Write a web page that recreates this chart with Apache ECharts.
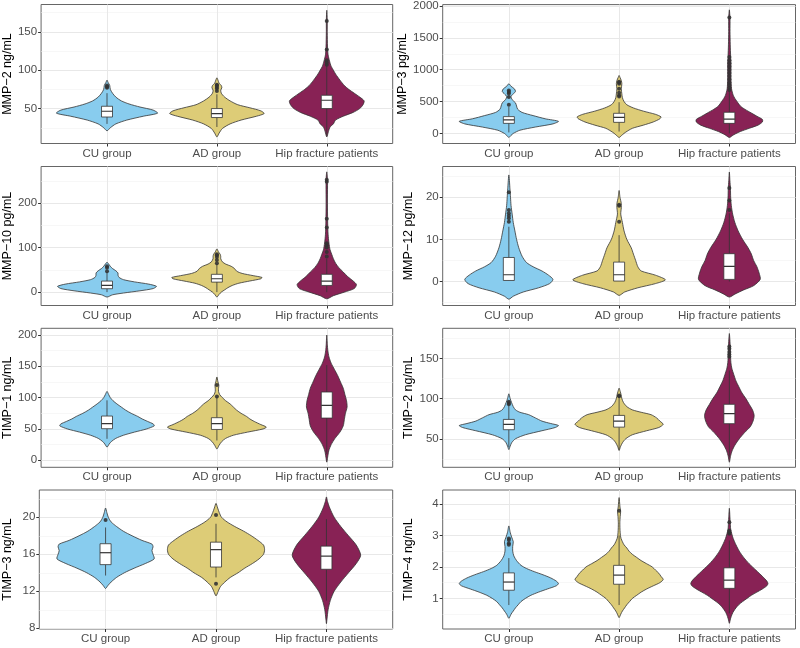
<!DOCTYPE html>
<html>
<head>
<meta charset="utf-8">
<script src="https://cdn.jsdelivr.net/npm/echarts@6/dist/echarts.min.js"></script>
<style>
html,body{margin:0;padding:0;background:#fff;}
#chart{width:800px;height:648px;}
</style>
</head>
<body>
<div id="chart"></div>
<script>
// ---------- data ----------
const categories = ['CU group', 'AD group', 'Hip fracture patients'];
const groupColors = ['#88CCEE', '#DDCC77', '#882255'];
const yTitles = ['MMP\u22122 ng/mL', 'MMP\u22123 pg/mL', 'MMP\u221210 pg/mL', 'MMP\u221212 pg/mL',
                 'TIMP\u22121 ng/mL', 'TIMP\u22122 ng/mL', 'TIMP\u22123 ng/mL', 'TIMP\u22124 ng/mL'];
const yMajorTicks = [[50,100,150],[0,500,1000,1500,2000],[0,100,200],[0,10,20],
                     [0,50,100,150,200],[50,100,150],[8,12,16,20],[1,2,3,4]];
const yMinorTicks = [[25,75,125,175],[250,750,1250,1750],[50,150,250],[-5,5,15,25],
                     [25,75,125,175],[25,75,125,175],[10,14,18,22],[0.5,1.5,2.5,3.5]];
const yLimits = [[4.5,185.5],[-158,2022],[-30,282],[-5.7,27.3],[-11.2,210.7],[14.5,187.5],[7.92,22.95],[0.03,4.44]];

// violin density profiles: [value, half-width in category units]
const mmp2Violin = [
  [[21,0],[25,0.03],[30,0.08],[35,0.18],[40,0.33],[44,0.46],[48,0.42],[52,0.3],[56,0.2],[60,0.13],[65,0.08],[70,0.05],[75,0.03],[80,0.025],[84,0.01],[87,0]],
  [[13,0],[18,0.02],[24,0.05],[30,0.12],[35,0.22],[40,0.36],[43.5,0.43],[47,0.4],[51,0.3],[55,0.19],[60,0.12],[65,0.07],[70,0.04],[74,0.035],[77,0.045],[80,0.04],[83,0.02],[87,0.01],[90,0]],
  [[13,0],[20,0.015],[26,0.03],[30,0.06],[35,0.08],[40,0.15],[45,0.24],[50,0.3],[55,0.33],[60,0.34],[65,0.3],[70,0.25],[75,0.2],[80,0.16],[87,0.12],[95,0.08],[100,0.06],[105,0.04],[112,0.025],[120,0.012],[130,0.007],[150,0.004],[165,0.004],[178,0]]
];
const mmp3Violin = [
  [[-63,0],[-30,0.02],[0,0.04],[50,0.1],[100,0.24],[150,0.4],[190,0.45],[230,0.33],[280,0.22],[330,0.12],[380,0.08],[430,0.07],[480,0.06],[530,0.03],[580,0.02],[620,0.04],[660,0.06],[700,0.05],[740,0.02],[780,0]],
  [[-63,0],[-20,0.03],[20,0.06],[80,0.12],[130,0.22],[180,0.31],[230,0.37],[260,0.38],[300,0.33],[350,0.22],[400,0.13],[450,0.07],[500,0.045],[560,0.03],[620,0.025],[700,0.02],[780,0.025],[830,0.02],[880,0.008],[910,0]],
  [[-63,0],[-20,0.04],[30,0.1],[80,0.18],[130,0.26],[180,0.3],[220,0.3],[270,0.25],[320,0.2],[380,0.14],[430,0.1],[500,0.07],[550,0.05],[600,0.035],[700,0.02],[850,0.015],[1000,0.015],[1100,0.015],[1200,0.012],[1400,0.008],[1600,0.006],[1800,0.006],[1940,0]]
];
const mmp10Violin = [
  [[-11,0],[-6,0.05],[-2,0.15],[3,0.3],[8,0.42],[13,0.45],[18,0.38],[23,0.25],[28,0.15],[33,0.11],[38,0.1],[43,0.1],[48,0.08],[53,0.05],[58,0.03],[63,0.015],[67,0]],
  [[-11,0],[-5,0.02],[0,0.04],[5,0.07],[10,0.1],[15,0.14],[20,0.2],[25,0.3],[30,0.4],[33,0.41],[37,0.33],[42,0.23],[47,0.18],[53,0.16],[58,0.13],[63,0.08],[68,0.05],[75,0.035],[80,0.035],[85,0.03],[90,0.015],[97,0]],
  [[-15,0],[-8,0.06],[0,0.16],[8,0.25],[17,0.27],[25,0.24],[35,0.19],[45,0.15],[55,0.11],[65,0.08],[75,0.06],[85,0.045],[95,0.03],[110,0.02],[130,0.012],[160,0.008],[200,0.006],[240,0.007],[255,0.006],[270,0]]
];
const mmp12Violin = [
  [[-4.2,0],[-3.5,0.04],[-2.5,0.13],[-1.5,0.27],[-0.5,0.37],[0.5,0.4],[1.5,0.36],[2.5,0.3],[3.5,0.22],[4.5,0.16],[6,0.12],[8,0.09],[10,0.07],[12,0.055],[14,0.04],[16,0.03],[18,0.02],[20,0.015],[22,0.01],[25.3,0]],
  [[-3.3,0],[-2.5,0.05],[-1.5,0.17],[-0.5,0.33],[0.4,0.42],[1.5,0.33],[2.5,0.2],[3.5,0.17],[5,0.15],[6.5,0.13],[8,0.11],[10,0.07],[12,0.045],[14,0.03],[16,0.015],[17.5,0.02],[18.5,0.02],[20,0.008],[21.6,0]],
  [[-3.7,0],[-3,0.05],[-2,0.13],[-1,0.22],[0.5,0.28],[2,0.27],[3.5,0.25],[5,0.22],[6.5,0.2],[8,0.17],[10,0.12],[12,0.08],[14,0.05],[16,0.03],[18,0.018],[20,0.012],[22,0.01],[24,0.005],[26,0]]
];
const timp1Violin = [
  [[21,0],[26,0.02],[30,0.04],[35,0.08],[40,0.15],[45,0.25],[50,0.36],[55,0.43],[58,0.42],[62,0.37],[66,0.32],[70,0.28],[75,0.22],[80,0.17],[85,0.13],[90,0.09],[95,0.055],[100,0.03],[105,0.015],[110,0]],
  [[18,0],[24,0.02],[30,0.045],[35,0.08],[40,0.15],[45,0.28],[50,0.42],[53,0.45],[57,0.4],[62,0.34],[66,0.3],[70,0.27],[75,0.22],[80,0.18],[85,0.15],[90,0.12],[95,0.08],[100,0.05],[105,0.025],[110,0.015],[115,0.015],[120,0.018],[125,0.01],[133,0]],
  [[-3,0],[5,0.008],[15,0.018],[25,0.04],[35,0.075],[45,0.12],[55,0.15],[65,0.16],[75,0.17],[85,0.185],[95,0.18],[105,0.165],[115,0.15],[125,0.125],[135,0.1],[145,0.07],[155,0.04],[165,0.02],[175,0.01],[185,0.005],[200,0]]
];
const timp2Violin = [
  [[36.5,0],[40,0.01],[45,0.025],[50,0.06],[55,0.15],[60,0.3],[64,0.42],[66.5,0.45],[69,0.38],[72,0.3],[76,0.24],[80,0.18],[83,0.1],[86,0.06],[90,0.04],[95,0.025],[100,0.012],[106,0]],
  [[35.4,0],[40,0.012],[45,0.03],[50,0.06],[55,0.12],[60,0.25],[64,0.36],[68,0.4],[72,0.37],[76,0.34],[80,0.29],[83,0.2],[86,0.12],[90,0.07],[95,0.04],[100,0.025],[105,0.018],[109,0.01],[113,0]],
  [[20.8,0],[28,0.01],[35,0.025],[42,0.05],[50,0.09],[58,0.14],[65,0.19],[72,0.215],[79,0.225],[86,0.21],[93,0.18],[100,0.15],[107,0.115],[115,0.085],[122,0.06],[130,0.04],[138,0.022],[145,0.014],[155,0.01],[165,0.008],[173,0.005],[181,0]]
];
const timp3Violin = [
  [[12.3,0],[12.6,0.02],[13,0.05],[13.5,0.1],[14,0.17],[14.5,0.26],[15,0.36],[15.5,0.44],[16,0.43],[16.4,0.42],[16.8,0.43],[17.1,0.42],[17.5,0.33],[18,0.24],[18.5,0.16],[19,0.1],[19.5,0.05],[20,0.025],[20.5,0.012],[21,0]],
  [[11.5,0],[12,0.02],[12.5,0.04],[13,0.08],[13.5,0.13],[14,0.2],[14.5,0.26],[15,0.33],[15.5,0.39],[16,0.43],[16.5,0.44],[17,0.43],[17.5,0.38],[18,0.32],[18.5,0.25],[19,0.17],[19.5,0.1],[20,0.05],[20.5,0.03],[21,0.015],[21.5,0]],
  [[8.5,0],[9,0.005],[10,0.015],[11,0.035],[12,0.07],[13,0.13],[14,0.2],[15,0.27],[15.9,0.31],[17,0.27],[18,0.2],[19,0.13],[20,0.07],[21,0.03],[21.7,0.01],[22.2,0]]
];
const timp4Violin = [
  [[0.37,0],[0.5,0.02],[0.6,0.04],[0.7,0.06],[0.8,0.085],[0.9,0.11],[1.0,0.15],[1.1,0.2],[1.2,0.27],[1.3,0.35],[1.4,0.43],[1.47,0.45],[1.55,0.43],[1.65,0.38],[1.75,0.31],[1.85,0.23],[1.95,0.16],[2.05,0.11],[2.2,0.07],[2.35,0.045],[2.5,0.035],[2.65,0.035],[2.8,0.04],[2.95,0.025],[3.1,0.012],[3.3,0]],
  [[0.39,0],[0.5,0.015],[0.6,0.03],[0.7,0.05],[0.8,0.07],[0.9,0.095],[1.0,0.12],[1.1,0.16],[1.2,0.2],[1.3,0.25],[1.4,0.31],[1.5,0.37],[1.6,0.4],[1.7,0.38],[1.8,0.36],[1.9,0.33],[2.0,0.3],[2.1,0.25],[2.2,0.2],[2.3,0.16],[2.4,0.12],[2.5,0.09],[2.6,0.07],[2.7,0.045],[2.8,0.03],[2.9,0.018],[3.0,0.012],[3.2,0.008],[3.4,0.007],[3.6,0.01],[3.75,0.014],[3.9,0.008],[4.2,0]],
  [[0.21,0],[0.35,0.01],[0.5,0.025],[0.6,0.04],[0.7,0.06],[0.8,0.085],[0.9,0.12],[1.0,0.16],[1.1,0.2],[1.2,0.25],[1.3,0.3],[1.4,0.34],[1.47,0.35],[1.55,0.34],[1.7,0.3],[1.9,0.24],[2.1,0.18],[2.3,0.13],[2.5,0.09],[2.7,0.06],[2.9,0.035],[3.05,0.022],[3.2,0.012],[3.4,0.008],[3.6,0.005],[3.86,0]]
];

// boxplot stats per group: [lower whisker, Q1, median, Q3, upper whisker]
const mmp2Box  = [[30,39,46.5,53,70],[26,38.3,43.5,50,68.6],[15,50,60.8,67.3,106]];
const mmp3Box  = [[16,158,212,264,420],[30,174,253,316,490],[0,158,225,332,675]];
const mmp10Box = [[0,7.7,15,24.8,45],[0,22.5,30,40,63],[0,15,24.8,40,75]];
const mmp12Box = [[0.2,0.24,1.6,5.7,13],[0.1,0.1,1.6,4.6,11],[0,0.5,3.6,6.6,16.2]];
const timp1Box = [[34.3,50.4,58.4,70.6,95.7],[31.6,49.2,58.4,68,101],[10,67.4,87.7,109,152]];
const timp2Box = [[39.5,61.3,67.9,74.1,91.6],[37.5,64.5,72,79.1,102],[27,68.8,81.2,92.9,135]];
const timp3Box = [[13.7,14.88,16.17,17.14,18.9],[13.5,14.62,16.5,17.31,19.3],[11,14.38,15.8,16.88,19.8]];
const timp4Box = [[0.79,1.26,1.52,1.81,2.28],[0.79,1.45,1.74,2.05,3.0],[0.53,1.32,1.58,1.97,2.84]];

// outliers per group
const mmp2Out  = [[77,78.5,80],[73,76,78,80,81],[107,110,113,127,164]];
const mmp3Out  = [[450,570,625,650,675],[580,600,640,700,780,800,810],[680,720,760,800,850,900,950,1000,1050,1100,1150,1200,1820]];
const mmp10Out = [[47,55,58],[65,72,79,83,85],[80,90,100,105,110,145,165,248,252]];
const mmp12Out = [[14.2,15,15.6,16.2,17,21.2],[14.2,18,18.2],[17,19.2,22.2]];
const timp1Out = [[],[102,120],[]];
const timp2Out = [[93,94.5,96],[103,104],[152,155,158,162,165]];
const timp3Out = [[19.7],[20.25,12.8],[]];
const timp4Out = [[2.7,2.75,2.85,2.9],[3.78],[3.05,3.1,3.15,3.42]];

const violins = [mmp2Violin, mmp3Violin, mmp10Violin, mmp12Violin, timp1Violin, timp2Violin, timp3Violin, timp4Violin];
const boxes = [mmp2Box, mmp3Box, mmp10Box, mmp12Box, timp1Box, timp2Box, timp3Box, timp4Box];
const outliers = [mmp2Out, mmp3Out, mmp10Out, mmp12Out, timp1Out, timp2Out, timp3Out, timp4Out];

// ---------- layout ----------
const colLeft = [39.3, 442.7];
const colWidth = [353.4, 352.8];
const rowTop = [4.5, 166.5, 328.3, 490];
const rowHeight = 139;
const nameGaps = [25, 28];

const FONT = 'Liberation Sans, Arial, Helvetica, sans-serif';
const TICK_COLOR = '#333333';
const LABEL_COLOR = '#4D4D4D';
const MAJOR_GRID = '#E8E8E8';
const MINOR_GRID = '#F2F2F2';

const grid = [], xAxis = [], yAxis = [], series = [];

for (let p = 0; p < 8; p++) {
  const col = p % 2, row = Math.floor(p / 2);
  grid.push({left: colLeft[col], top: rowTop[row], width: colWidth[col], height: rowHeight,
             show: true, borderColor: '#666666', borderWidth: 1, backgroundColor: 'transparent'});
  xAxis.push({
    type: 'value', gridIndex: p, min: -0.6, max: 2.6, position: 'bottom',
    axisLine: {show: false, onZero: false},
    axisTick: {show: true, length: 3, customValues: [0,1,2], lineStyle: {color: TICK_COLOR, width: 1}},
    axisLabel: {show: true, customValues: [0,1,2], formatter: v => categories[Math.round(v)] || '',
                fontFamily: FONT, fontSize: 11.5, color: LABEL_COLOR, margin: 4},
    splitLine: {show: true, lineStyle: {color: MAJOR_GRID, width: 1}}
  });
  const [ymin, ymax] = yLimits[p];
  yAxis.push({
    type: 'value', gridIndex: p, min: ymin, max: ymax, position: 'left',
    name: yTitles[p], nameLocation: 'middle', nameGap: nameGaps[col], nameRotate: 90,
    nameTextStyle: {fontFamily: FONT, fontSize: 12.5, color: '#000'},
    axisLine: {show: false, onZero: false},
    axisTick: {show: true, length: 3, customValues: yMajorTicks[p], lineStyle: {color: TICK_COLOR, width: 1}},
    axisLabel: {show: true, customValues: yMajorTicks[p], formatter: v => String(v),
                fontFamily: FONT, fontSize: 11.5, color: LABEL_COLOR, margin: 4},
    splitLine: {show: true, lineStyle: {color: MAJOR_GRID, width: 1}}
  });
  // minor grid axis
  yAxis.push({
    type: 'value', gridIndex: p, min: ymin, max: ymax, position: 'left',
    axisLine: {show: false, onZero: false}, axisLabel: {show: false},
    axisTick: {show: false, customValues: yMinorTicks[p]},
    splitLine: {show: true, lineStyle: {color: MINOR_GRID, width: 0.6}}
  });
  const yIdx = yAxis.length - 2;
  const prof = violins[p];
  const bx = boxes[p];
  series.push({
    type: 'custom', xAxisIndex: p, yAxisIndex: yIdx, z: 2, silent: true, clip: true,
    data: categories.map((c, i) => [i, bx[i][2]]),
    encode: {x: 0, y: 1},
    renderItem: function (params, api) {
      const g = api.value(0);
      const pr = prof[g];
      const right = pr.map(pt => api.coord([g + pt[1], pt[0]]));
      const left = pr.slice(1, -1).reverse().map(pt => api.coord([g - pt[1], pt[0]]));
      return {type: 'polygon', shape: {points: right.concat(left), smooth: 0.25},
              style: {fill: groupColors[g], stroke: '#333333', lineWidth: 0.8}};
    }
  });
  series.push({
    type: 'custom', xAxisIndex: p, yAxisIndex: yIdx, z: 3, silent: true, clip: true,
    data: categories.map((c, i) => [i, bx[i][2]]),
    encode: {x: 0, y: 1},
    renderItem: function (params, api) {
      const g = api.value(0);
      const b = bx[g];
      const bw = 0.05;
      const pLow = api.coord([g, b[0]]), pQ1 = api.coord([g, b[1]]), pQ3 = api.coord([g, b[3]]), pHigh = api.coord([g, b[4]]);
      const l1 = api.coord([g - bw, b[3]]), r1 = api.coord([g + bw, b[1]]);
      const mL = api.coord([g - bw, b[2]]), mR = api.coord([g + bw, b[2]]);
      const st = {stroke: '#333333', lineWidth: 0.8};
      return {type: 'group', children: [
        {type: 'line', shape: {x1: pLow[0], y1: pLow[1], x2: pQ1[0], y2: pQ1[1]}, style: st},
        {type: 'line', shape: {x1: pQ3[0], y1: pQ3[1], x2: pHigh[0], y2: pHigh[1]}, style: st},
        {type: 'rect', shape: {x: l1[0], y: l1[1], width: r1[0] - l1[0], height: r1[1] - l1[1]},
         style: {fill: '#ffffff', stroke: '#333333', lineWidth: 0.8}},
        {type: 'line', shape: {x1: mL[0], y1: mL[1], x2: mR[0], y2: mR[1]}, style: {stroke: '#333333', lineWidth: 1.2}}
      ]};
    }
  });
  const pts = [];
  outliers[p].forEach((arr, g) => arr.forEach(v => pts.push([g, v])));
  series.push({
    type: 'scatter', xAxisIndex: p, yAxisIndex: yIdx, z: 4, silent: true,
    symbol: 'circle', symbolSize: 4, itemStyle: {color: '#333333', opacity: 0.9},
    data: pts
  });
}

const chart = echarts.init(document.getElementById('chart'), null, {renderer: 'canvas'});
chart.setOption({
  animation: false,
  backgroundColor: '#ffffff',
  grid: grid, xAxis: xAxis, yAxis: yAxis, series: series
});
</script>
</body>
</html>
